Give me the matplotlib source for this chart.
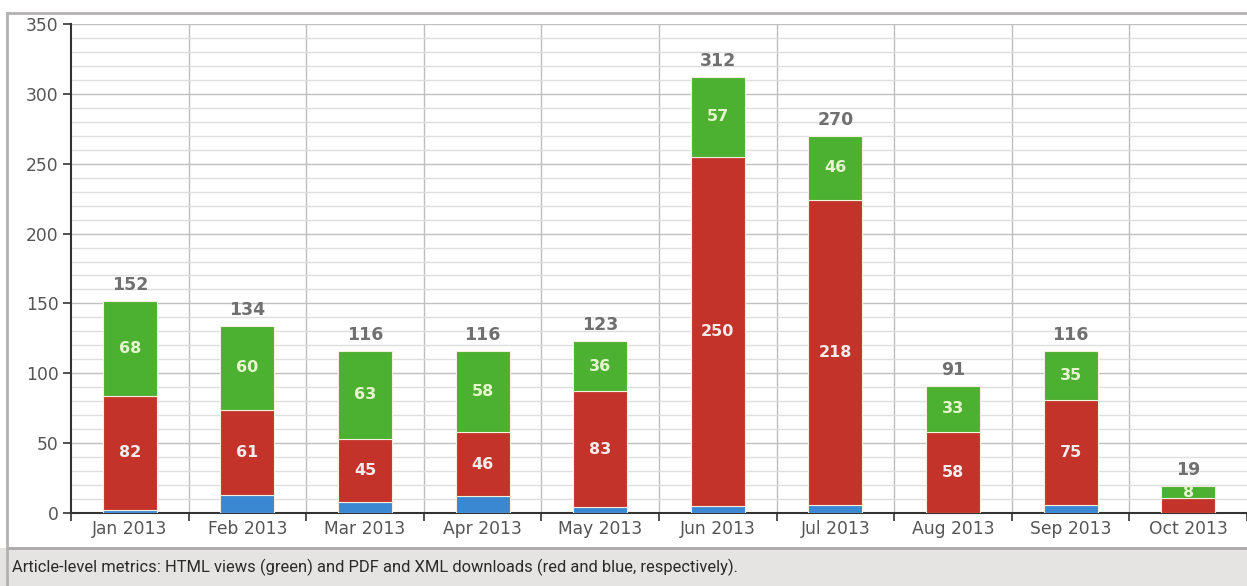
import matplotlib
matplotlib.use('Agg')
import matplotlib.pyplot as plt
import numpy as np
from matplotlib.patches import Rectangle
from matplotlib.lines import Line2D

months = ['Jan 2013', 'Feb 2013', 'Mar 2013', 'Apr 2013', 'May 2013',
          'Jun 2013', 'Jul 2013', 'Aug 2013', 'Sep 2013', 'Oct 2013']
xml_downloads = [2, 13, 8, 12, 4, 5, 6, 0, 6, 0]
pdf_downloads = [82, 61, 45, 46, 83, 250, 218, 58, 75, 11]
html_views = [68, 60, 63, 58, 36, 57, 46, 33, 35, 8]
# the chart leaves out the label of the thin Oct red segment
show_pdf_label = [True] * 9 + [False]

GREEN = '#4cb031'
RED = '#c3332a'
BLUE = '#3a87d2'


def main():
    plt.rcParams['font.family'] = ['DejaVu Sans']
    fig = plt.figure(figsize=(12.47, 5.86), dpi=100)
    W, H = 1247, 586

    # caption panel
    fig.patches.append(Rectangle((0, 0), 1, 38 / H, transform=fig.transFigure,
                                 facecolor='#e6e3e3', edgecolor='none', zorder=0))
    fig.lines.append(Line2D([7 / W, 1], [38.5 / H, 38.5 / H], transform=fig.transFigure,
                            color='#a9a7a7', lw=2))
    fig.lines.append(Line2D([7 / W, 1], [(H - 13) / H, (H - 13) / H], transform=fig.transFigure,
                            color='#b3b1b1', lw=2))
    fig.lines.append(Line2D([7 / W, 7 / W], [0, (H - 13) / H], transform=fig.transFigure,
                            color='#b3b1b1', lw=2))
    fig.text(12 / W, 19 / H,
             'Article-level metrics: HTML views (green) and PDF and XML downloads (red and blue, respectively).',
             family=['Liberation Sans Narrow', 'Roboto'], fontsize=11.9, color='#2a2a2a', va='center')

    ax = fig.add_axes([71 / W, 73 / H, 1 - 71 / W, (513 - 24) / H])
    x = np.arange(len(months))
    width = 0.46

    blue = np.array(xml_downloads)
    red = np.array(pdf_downloads)
    green = np.array(html_views)
    ax.bar(x, blue, width, color=BLUE, edgecolor='#f4f0e0', linewidth=0.8, zorder=3)
    ax.bar(x, red, width, bottom=blue, color=RED, edgecolor='#f4f0e0', linewidth=0.8, zorder=3)
    ax.bar(x, green, width, bottom=blue + red, color=GREEN, edgecolor='#f4f0e0', linewidth=0.8, zorder=3)

    totals = blue + red + green
    for i in x:
        if show_pdf_label[i]:
            ax.text(i, blue[i] + red[i] / 2, str(red[i]), ha='center', va='center',
                    color='#f4ecec', fontsize=11.5, fontweight='bold', zorder=4)
        ax.text(i, blue[i] + red[i] + green[i] / 2, str(green[i]), ha='center', va='center',
                color='#e6f5cf', fontsize=11.5, fontweight='bold', zorder=4)
        ax.text(i, totals[i] + 5, str(totals[i]), ha='center', va='bottom',
                color='#707070', fontsize=12.5, fontweight='bold', zorder=4)

    ax.set_xlim(-0.5, len(months) - 0.5)
    ax.set_ylim(0, 350)

    ax.set_yticks(np.arange(0, 351, 50))
    ax.set_yticks(np.arange(0, 351, 10), minor=True)
    ax.grid(axis='y', which='minor', color='#dedede', lw=1, zorder=0)
    ax.grid(axis='y', which='major', color='#c0c0c0', lw=1, zorder=1)

    for b in np.arange(0.5, len(months) - 0.5, 1):
        ax.axvline(b, color='#bdbdbd', lw=1, zorder=1)

    ax.set_xticks(x)
    ax.set_xticklabels(months)
    ax.set_xticks(np.arange(-0.5, len(months), 1), minor=True)
    ax.tick_params(axis='x', which='major', length=0, pad=5, labelsize=12.3, labelcolor='#555555')
    ax.tick_params(axis='x', which='minor', length=6, width=1.2, color='#333333', direction='out')
    ax.tick_params(axis='y', which='major', length=6, width=1.2, color='#333333',
                   labelsize=12.3, labelcolor='#555555', pad=3)
    ax.tick_params(axis='y', which='minor', length=0)

    for side in ['top', 'right']:
        ax.spines[side].set_visible(False)
    ax.spines['left'].set_color('#333333')
    ax.spines['bottom'].set_color('#333333')
    ax.spines['left'].set_linewidth(1.5)
    ax.spines['bottom'].set_linewidth(1.5)

    fig.savefig('out.png', dpi=100)


if __name__ == '__main__':
    main()
